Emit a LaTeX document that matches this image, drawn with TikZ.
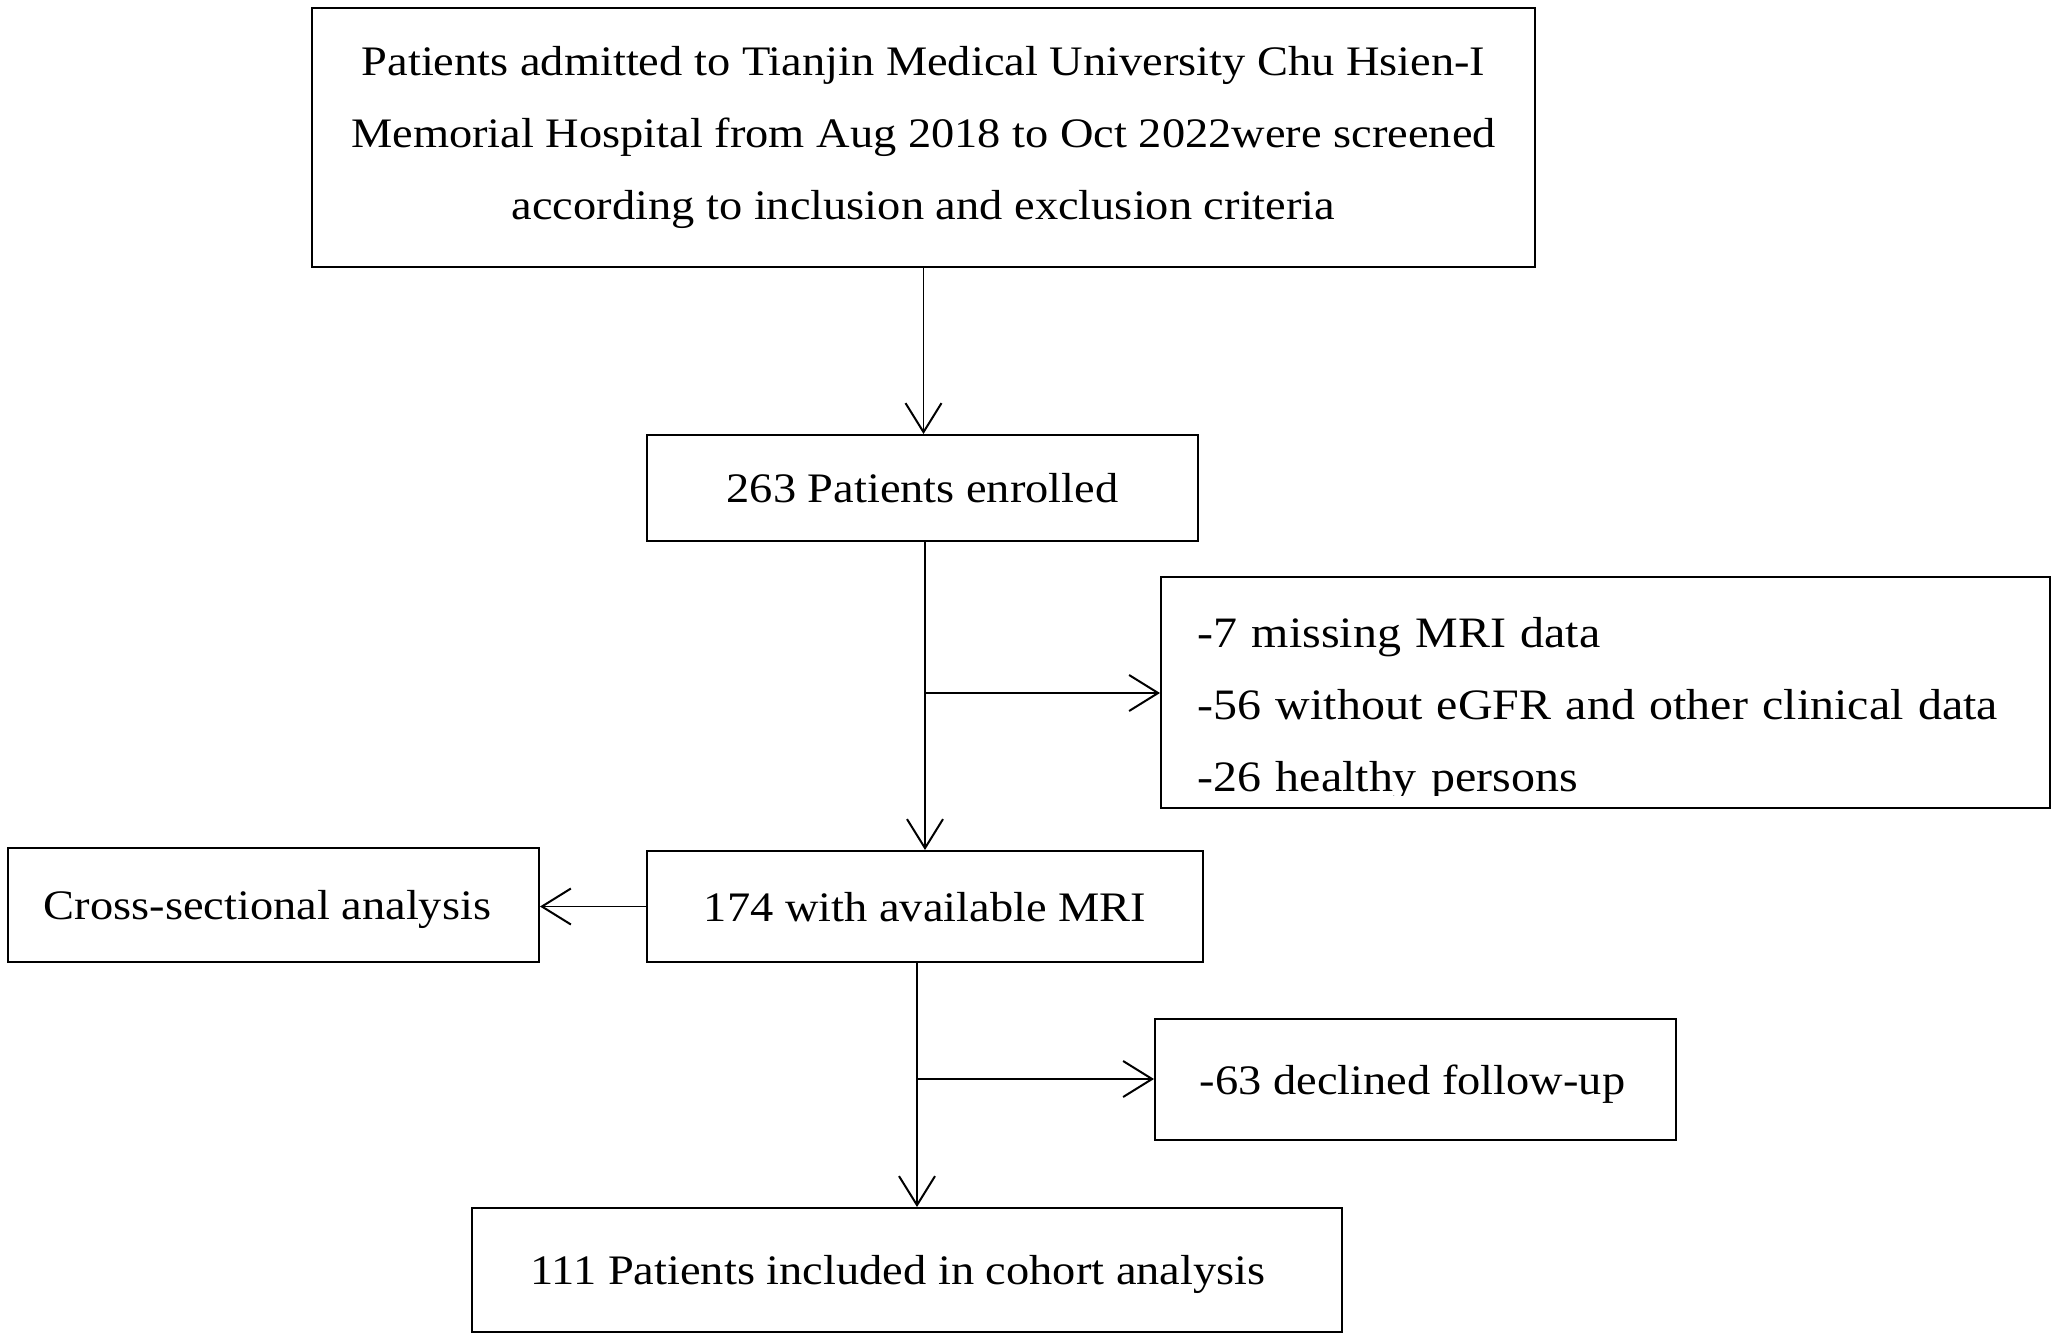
\documentclass[tikz,border=0pt]{standalone}
\usepackage{fontspec}
\setmainfont{Liberation Serif}[FakeStretch=1.105]
\usetikzlibrary{arrows.meta}
\begin{document}
\begin{tikzpicture}[x=0.5pt,y=-0.5pt,
  boxbase/.style={draw, line width=1pt, inner sep=0pt, anchor=north west,
    font=\fontsize{21}{36}\selectfont},
  box/.style={boxbase, text height=14.5pt, text depth=0pt},
  conn/.style={line width=0.7pt},
  arr/.style={conn, -{Straight Barb[length=14.5pt,width=18pt,line width=1pt]}}]
\useasboundingbox[fill=white] (0,0) rectangle (2056,1339);

% boxes
\node[boxbase, align=center, minimum width=611.5pt, minimum height=129.5pt] (top) at (311,7)
  {Patients admitted to Tianjin Medical University Chu Hsien-I\\
   Memorial Hospital from Aug 2018 to Oct 2022were screened\\
   according to inclusion and exclusion criteria};
\node[box, minimum width=275.5pt, minimum height=53pt] (enrolled) at (646,434) {263 Patients enrolled};
\node[boxbase, minimum width=444.5pt, minimum height=115.5pt] (excl) at (1160,576) {};
\begin{scope}
  \clip (excl.north west) rectangle ([yshift=7pt]excl.south east);
  \node[anchor=base west, inner sep=0pt, text width=430pt, align=left,
        font=\fontsize{21.7}{36}\selectfont] (excltxt) at (1197,647)
    {-7 missing MRI data\\
     -56 without eGFR and other clinical data\\
     -26 healthy persons};
\end{scope}
\node[box, minimum width=278pt, minimum height=55.5pt] (mri) at (646,850) {174 with available MRI};
\node[box, minimum width=265.5pt, minimum height=57pt] (cross) at (7,847) {Cross-sectional analysis\hspace*{6pt}};
\node[box, minimum width=260.5pt, minimum height=60.5pt] (dec) at (1154,1018) {-63 declined follow-up\hspace*{3pt}};
\node[box, minimum width=435pt, minimum height=62pt] (cohort) at (471,1207) {111 Patients included in cohort analysis\hspace*{9pt}};

% connectors
\coordinate (j1) at (924,693);
\coordinate (j2) at (917,1079);
\draw[arr] (top.south) -- (top.south |- enrolled.north);
\draw[arr] (enrolled.south -| mri.north) -- (mri.north);
\draw[arr] (j1) -- (j1 -| excl.west);
\draw[arr] (mri.west) -- (mri.west -| cross.east);
\draw[arr] (j2 |- mri.south) -- (j2 |- cohort.north);
\draw[arr] (j2) -- (j2 -| dec.west);
\end{tikzpicture}
\end{document}
